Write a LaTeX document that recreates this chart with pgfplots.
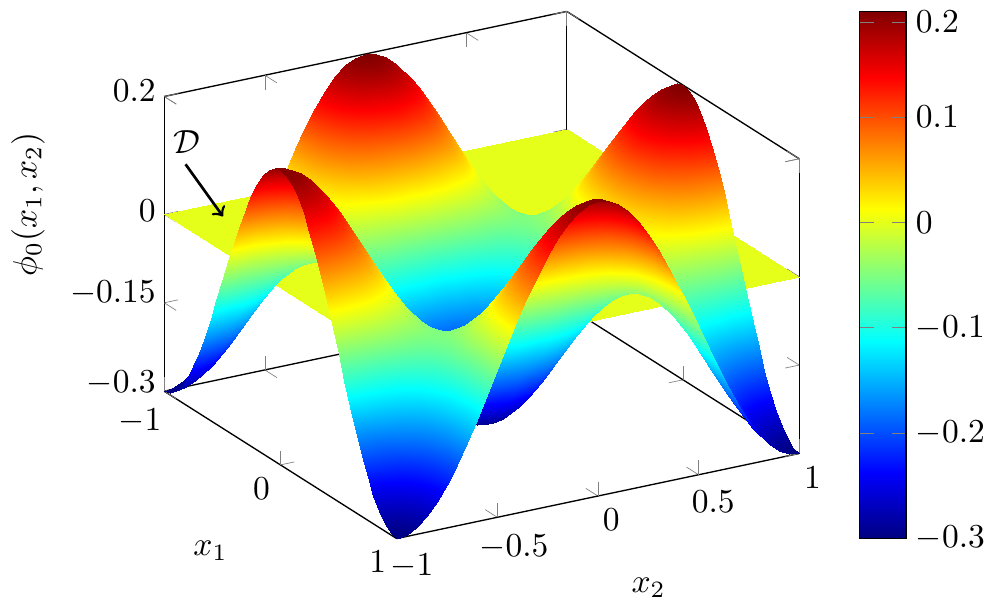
\documentclass[border=0pt]{standalone}
\usepackage{pgfplots}
\pgfplotsset{compat=1.18}
\begin{document}
\begin{tikzpicture}
\begin{axis}[
  scale only axis,
  width=189.6pt, height=157.4pt,
  view={60}{30},
  xmin=-1, xmax=1, ymin=-1, ymax=1, zmin=-0.3, zmax=0.2,
  xtick={-1,0,1}, ytick={-1,-0.5,0,0.5,1}, ztick={-0.3,-0.15,0,0.2},
  xlabel={$x_1$}, ylabel={$x_2$}, zlabel={$\phi_0(x_1,x_2)$},
  zlabel style={xshift=4.5pt},
  z tick label style={xshift=1pt},
  colormap/jet,
  point meta min=-0.3, point meta max=0.2,
  colorbar,
  colorbar style={width=14pt, xshift=-0.4pt,
    y tick label style={xshift=-0.6pt},
    ytick={-0.3,-0.2,-0.1,0,0.1,0.19},
    yticklabels={$-0.3$,$-0.2$,$-0.1$,$0$,$0.1$,$0.2$}},
  clip=false,
]
\addplot3[surf, shader=interp, mesh/rows=2, mesh/cols=2, point meta=z] coordinates {
  (-1,-1,0) (-1,1,0)
  (1,-1,0) (1,1,0)
};
% 41 x 41 grid, one line per x1 value, x2 running from -1 to 1
\addplot3[surf, shader=interp, mesh/rows=41, mesh/cols=41, mesh/ordering=y varies, point meta=z]
table[row sep=crcr, z=z, x expr={-1+0.05*floor((\coordindex+0.5)/41)}, y expr={-1+0.05*(\coordindex-41*floor((\coordindex+0.5)/41))}] {
z\\
-.3\\-.2969\\-.2878\\-.2728\\-.2523\\-.2268\\-.197\\-.1635\\-.1273\\-.0891\\-.05\\-.0109\\.0273\\.0635\\.097\\.1268\\.1523\\.1728\\.1878\\.1969\\.2\\.1969\\.1878\\.1728\\.1523\\.1268\\.097\\.0635\\.0273\\-.0109\\-.05\\-.0891\\-.1273\\-.1635\\-.197\\-.2268\\-.2523\\-.2728\\-.2878\\-.2969\\-.3\\
-.2969\\-.2939\\-.2848\\-.27\\-.2498\\-.2246\\-.1951\\-.1621\\-.1263\\-.0886\\-.05\\-.0114\\.0263\\.0621\\.0951\\.1246\\.1498\\.17\\.1848\\.1939\\.1969\\.1939\\.1848\\.17\\.1498\\.1246\\.0951\\.0621\\.0263\\-.0114\\-.05\\-.0886\\-.1263\\-.1621\\-.1951\\-.2246\\-.2498\\-.27\\-.2848\\-.2939\\-.2969\\
-.2878\\-.2848\\-.2761\\-.2618\\-.2424\\-.2181\\-.1898\\-.1579\\-.1235\\-.0872\\-.05\\-.0128\\.0235\\.0579\\.0898\\.1181\\.1424\\.1618\\.1761\\.1848\\.1878\\.1848\\.1761\\.1618\\.1424\\.1181\\.0898\\.0579\\.0235\\-.0128\\-.05\\-.0872\\-.1235\\-.1579\\-.1898\\-.2181\\-.2424\\-.2618\\-.2761\\-.2848\\-.2878\\
-.2728\\-.27\\-.2618\\-.2485\\-.2302\\-.2075\\-.1809\\-.1511\\-.1188\\-.0848\\-.05\\-.0152\\.0188\\.0511\\.0809\\.1075\\.1302\\.1485\\.1618\\.17\\.1728\\.17\\.1618\\.1485\\.1302\\.1075\\.0809\\.0511\\.0188\\-.0152\\-.05\\-.0848\\-.1188\\-.1511\\-.1809\\-.2075\\-.2302\\-.2485\\-.2618\\-.27\\-.2728\\
-.2523\\-.2498\\-.2424\\-.2302\\-.2136\\-.193\\-.1689\\-.1418\\-.1125\\-.0816\\-.05\\-.0184\\.0125\\.0418\\.0689\\.093\\.1136\\.1302\\.1424\\.1498\\.1523\\.1498\\.1424\\.1302\\.1136\\.093\\.0689\\.0418\\.0125\\-.0184\\-.05\\-.0816\\-.1125\\-.1418\\-.1689\\-.193\\-.2136\\-.2302\\-.2424\\-.2498\\-.2523\\
-.2268\\-.2246\\-.2181\\-.2075\\-.193\\-.175\\-.1539\\-.1303\\-.1046\\-.0777\\-.05\\-.0223\\.0046\\.0303\\.0539\\.075\\.093\\.1075\\.1181\\.1246\\.1268\\.1246\\.1181\\.1075\\.093\\.075\\.0539\\.0303\\.0046\\-.0223\\-.05\\-.0777\\-.1046\\-.1303\\-.1539\\-.175\\-.193\\-.2075\\-.2181\\-.2246\\-.2268\\
-.197\\-.1951\\-.1898\\-.1809\\-.1689\\-.1539\\-.1364\\-.1167\\-.0954\\-.073\\-.05\\-.027\\-.0046\\.0167\\.0364\\.0539\\.0689\\.0809\\.0898\\.0951\\.097\\.0951\\.0898\\.0809\\.0689\\.0539\\.0364\\.0167\\-.0046\\-.027\\-.05\\-.073\\-.0954\\-.1167\\-.1364\\-.1539\\-.1689\\-.1809\\-.1898\\-.1951\\-.197\\
-.1635\\-.1621\\-.1579\\-.1511\\-.1418\\-.1303\\-.1167\\-.1015\\-.0851\\-.0678\\-.05\\-.0322\\-.0149\\.0015\\.0167\\.0303\\.0418\\.0511\\.0579\\.0621\\.0635\\.0621\\.0579\\.0511\\.0418\\.0303\\.0167\\.0015\\-.0149\\-.0322\\-.05\\-.0678\\-.0851\\-.1015\\-.1167\\-.1303\\-.1418\\-.1511\\-.1579\\-.1621\\-.1635\\
-.1273\\-.1263\\-.1235\\-.1188\\-.1125\\-.1046\\-.0954\\-.0851\\-.0739\\-.0621\\-.05\\-.0379\\-.0261\\-.0149\\-.0046\\.0046\\.0125\\.0188\\.0235\\.0263\\.0273\\.0263\\.0235\\.0188\\.0125\\.0046\\-.0046\\-.0149\\-.0261\\-.0379\\-.05\\-.0621\\-.0739\\-.0851\\-.0954\\-.1046\\-.1125\\-.1188\\-.1235\\-.1263\\-.1273\\
-.0891\\-.0886\\-.0872\\-.0848\\-.0816\\-.0777\\-.073\\-.0678\\-.0621\\-.0561\\-.05\\-.0439\\-.0379\\-.0322\\-.027\\-.0223\\-.0184\\-.0152\\-.0128\\-.0114\\-.0109\\-.0114\\-.0128\\-.0152\\-.0184\\-.0223\\-.027\\-.0322\\-.0379\\-.0439\\-.05\\-.0561\\-.0621\\-.0678\\-.073\\-.0777\\-.0816\\-.0848\\-.0872\\-.0886\\-.0891\\
-.05\\-.05\\-.05\\-.05\\-.05\\-.05\\-.05\\-.05\\-.05\\-.05\\-.05\\-.05\\-.05\\-.05\\-.05\\-.05\\-.05\\-.05\\-.05\\-.05\\-.05\\-.05\\-.05\\-.05\\-.05\\-.05\\-.05\\-.05\\-.05\\-.05\\-.05\\-.05\\-.05\\-.05\\-.05\\-.05\\-.05\\-.05\\-.05\\-.05\\-.05\\
-.0109\\-.0114\\-.0128\\-.0152\\-.0184\\-.0223\\-.027\\-.0322\\-.0379\\-.0439\\-.05\\-.0561\\-.0621\\-.0678\\-.073\\-.0777\\-.0816\\-.0848\\-.0872\\-.0886\\-.0891\\-.0886\\-.0872\\-.0848\\-.0816\\-.0777\\-.073\\-.0678\\-.0621\\-.0561\\-.05\\-.0439\\-.0379\\-.0322\\-.027\\-.0223\\-.0184\\-.0152\\-.0128\\-.0114\\-.0109\\
.0273\\.0263\\.0235\\.0188\\.0125\\.0046\\-.0046\\-.0149\\-.0261\\-.0379\\-.05\\-.0621\\-.0739\\-.0851\\-.0954\\-.1046\\-.1125\\-.1188\\-.1235\\-.1263\\-.1273\\-.1263\\-.1235\\-.1188\\-.1125\\-.1046\\-.0954\\-.0851\\-.0739\\-.0621\\-.05\\-.0379\\-.0261\\-.0149\\-.0046\\.0046\\.0125\\.0188\\.0235\\.0263\\.0273\\
.0635\\.0621\\.0579\\.0511\\.0418\\.0303\\.0167\\.0015\\-.0149\\-.0322\\-.05\\-.0678\\-.0851\\-.1015\\-.1167\\-.1303\\-.1418\\-.1511\\-.1579\\-.1621\\-.1635\\-.1621\\-.1579\\-.1511\\-.1418\\-.1303\\-.1167\\-.1015\\-.0851\\-.0678\\-.05\\-.0322\\-.0149\\.0015\\.0167\\.0303\\.0418\\.0511\\.0579\\.0621\\.0635\\
.097\\.0951\\.0898\\.0809\\.0689\\.0539\\.0364\\.0167\\-.0046\\-.027\\-.05\\-.073\\-.0954\\-.1167\\-.1364\\-.1539\\-.1689\\-.1809\\-.1898\\-.1951\\-.197\\-.1951\\-.1898\\-.1809\\-.1689\\-.1539\\-.1364\\-.1167\\-.0954\\-.073\\-.05\\-.027\\-.0046\\.0167\\.0364\\.0539\\.0689\\.0809\\.0898\\.0951\\.097\\
.1268\\.1246\\.1181\\.1075\\.093\\.075\\.0539\\.0303\\.0046\\-.0223\\-.05\\-.0777\\-.1046\\-.1303\\-.1539\\-.175\\-.193\\-.2075\\-.2181\\-.2246\\-.2268\\-.2246\\-.2181\\-.2075\\-.193\\-.175\\-.1539\\-.1303\\-.1046\\-.0777\\-.05\\-.0223\\.0046\\.0303\\.0539\\.075\\.093\\.1075\\.1181\\.1246\\.1268\\
.1523\\.1498\\.1424\\.1302\\.1136\\.093\\.0689\\.0418\\.0125\\-.0184\\-.05\\-.0816\\-.1125\\-.1418\\-.1689\\-.193\\-.2136\\-.2302\\-.2424\\-.2498\\-.2523\\-.2498\\-.2424\\-.2302\\-.2136\\-.193\\-.1689\\-.1418\\-.1125\\-.0816\\-.05\\-.0184\\.0125\\.0418\\.0689\\.093\\.1136\\.1302\\.1424\\.1498\\.1523\\
.1728\\.17\\.1618\\.1485\\.1302\\.1075\\.0809\\.0511\\.0188\\-.0152\\-.05\\-.0848\\-.1188\\-.1511\\-.1809\\-.2075\\-.2302\\-.2485\\-.2618\\-.27\\-.2728\\-.27\\-.2618\\-.2485\\-.2302\\-.2075\\-.1809\\-.1511\\-.1188\\-.0848\\-.05\\-.0152\\.0188\\.0511\\.0809\\.1075\\.1302\\.1485\\.1618\\.17\\.1728\\
.1878\\.1848\\.1761\\.1618\\.1424\\.1181\\.0898\\.0579\\.0235\\-.0128\\-.05\\-.0872\\-.1235\\-.1579\\-.1898\\-.2181\\-.2424\\-.2618\\-.2761\\-.2848\\-.2878\\-.2848\\-.2761\\-.2618\\-.2424\\-.2181\\-.1898\\-.1579\\-.1235\\-.0872\\-.05\\-.0128\\.0235\\.0579\\.0898\\.1181\\.1424\\.1618\\.1761\\.1848\\.1878\\
.1969\\.1939\\.1848\\.17\\.1498\\.1246\\.0951\\.0621\\.0263\\-.0114\\-.05\\-.0886\\-.1263\\-.1621\\-.1951\\-.2246\\-.2498\\-.27\\-.2848\\-.2939\\-.2969\\-.2939\\-.2848\\-.27\\-.2498\\-.2246\\-.1951\\-.1621\\-.1263\\-.0886\\-.05\\-.0114\\.0263\\.0621\\.0951\\.1246\\.1498\\.17\\.1848\\.1939\\.1969\\
.2\\.1969\\.1878\\.1728\\.1523\\.1268\\.097\\.0635\\.0273\\-.0109\\-.05\\-.0891\\-.1273\\-.1635\\-.197\\-.2268\\-.2523\\-.2728\\-.2878\\-.2969\\-.3\\-.2969\\-.2878\\-.2728\\-.2523\\-.2268\\-.197\\-.1635\\-.1273\\-.0891\\-.05\\-.0109\\.0273\\.0635\\.097\\.1268\\.1523\\.1728\\.1878\\.1969\\.2\\
.1969\\.1939\\.1848\\.17\\.1498\\.1246\\.0951\\.0621\\.0263\\-.0114\\-.05\\-.0886\\-.1263\\-.1621\\-.1951\\-.2246\\-.2498\\-.27\\-.2848\\-.2939\\-.2969\\-.2939\\-.2848\\-.27\\-.2498\\-.2246\\-.1951\\-.1621\\-.1263\\-.0886\\-.05\\-.0114\\.0263\\.0621\\.0951\\.1246\\.1498\\.17\\.1848\\.1939\\.1969\\
.1878\\.1848\\.1761\\.1618\\.1424\\.1181\\.0898\\.0579\\.0235\\-.0128\\-.05\\-.0872\\-.1235\\-.1579\\-.1898\\-.2181\\-.2424\\-.2618\\-.2761\\-.2848\\-.2878\\-.2848\\-.2761\\-.2618\\-.2424\\-.2181\\-.1898\\-.1579\\-.1235\\-.0872\\-.05\\-.0128\\.0235\\.0579\\.0898\\.1181\\.1424\\.1618\\.1761\\.1848\\.1878\\
.1728\\.17\\.1618\\.1485\\.1302\\.1075\\.0809\\.0511\\.0188\\-.0152\\-.05\\-.0848\\-.1188\\-.1511\\-.1809\\-.2075\\-.2302\\-.2485\\-.2618\\-.27\\-.2728\\-.27\\-.2618\\-.2485\\-.2302\\-.2075\\-.1809\\-.1511\\-.1188\\-.0848\\-.05\\-.0152\\.0188\\.0511\\.0809\\.1075\\.1302\\.1485\\.1618\\.17\\.1728\\
.1523\\.1498\\.1424\\.1302\\.1136\\.093\\.0689\\.0418\\.0125\\-.0184\\-.05\\-.0816\\-.1125\\-.1418\\-.1689\\-.193\\-.2136\\-.2302\\-.2424\\-.2498\\-.2523\\-.2498\\-.2424\\-.2302\\-.2136\\-.193\\-.1689\\-.1418\\-.1125\\-.0816\\-.05\\-.0184\\.0125\\.0418\\.0689\\.093\\.1136\\.1302\\.1424\\.1498\\.1523\\
.1268\\.1246\\.1181\\.1075\\.093\\.075\\.0539\\.0303\\.0046\\-.0223\\-.05\\-.0777\\-.1046\\-.1303\\-.1539\\-.175\\-.193\\-.2075\\-.2181\\-.2246\\-.2268\\-.2246\\-.2181\\-.2075\\-.193\\-.175\\-.1539\\-.1303\\-.1046\\-.0777\\-.05\\-.0223\\.0046\\.0303\\.0539\\.075\\.093\\.1075\\.1181\\.1246\\.1268\\
.097\\.0951\\.0898\\.0809\\.0689\\.0539\\.0364\\.0167\\-.0046\\-.027\\-.05\\-.073\\-.0954\\-.1167\\-.1364\\-.1539\\-.1689\\-.1809\\-.1898\\-.1951\\-.197\\-.1951\\-.1898\\-.1809\\-.1689\\-.1539\\-.1364\\-.1167\\-.0954\\-.073\\-.05\\-.027\\-.0046\\.0167\\.0364\\.0539\\.0689\\.0809\\.0898\\.0951\\.097\\
.0635\\.0621\\.0579\\.0511\\.0418\\.0303\\.0167\\.0015\\-.0149\\-.0322\\-.05\\-.0678\\-.0851\\-.1015\\-.1167\\-.1303\\-.1418\\-.1511\\-.1579\\-.1621\\-.1635\\-.1621\\-.1579\\-.1511\\-.1418\\-.1303\\-.1167\\-.1015\\-.0851\\-.0678\\-.05\\-.0322\\-.0149\\.0015\\.0167\\.0303\\.0418\\.0511\\.0579\\.0621\\.0635\\
.0273\\.0263\\.0235\\.0188\\.0125\\.0046\\-.0046\\-.0149\\-.0261\\-.0379\\-.05\\-.0621\\-.0739\\-.0851\\-.0954\\-.1046\\-.1125\\-.1188\\-.1235\\-.1263\\-.1273\\-.1263\\-.1235\\-.1188\\-.1125\\-.1046\\-.0954\\-.0851\\-.0739\\-.0621\\-.05\\-.0379\\-.0261\\-.0149\\-.0046\\.0046\\.0125\\.0188\\.0235\\.0263\\.0273\\
-.0109\\-.0114\\-.0128\\-.0152\\-.0184\\-.0223\\-.027\\-.0322\\-.0379\\-.0439\\-.05\\-.0561\\-.0621\\-.0678\\-.073\\-.0777\\-.0816\\-.0848\\-.0872\\-.0886\\-.0891\\-.0886\\-.0872\\-.0848\\-.0816\\-.0777\\-.073\\-.0678\\-.0621\\-.0561\\-.05\\-.0439\\-.0379\\-.0322\\-.027\\-.0223\\-.0184\\-.0152\\-.0128\\-.0114\\-.0109\\
-.05\\-.05\\-.05\\-.05\\-.05\\-.05\\-.05\\-.05\\-.05\\-.05\\-.05\\-.05\\-.05\\-.05\\-.05\\-.05\\-.05\\-.05\\-.05\\-.05\\-.05\\-.05\\-.05\\-.05\\-.05\\-.05\\-.05\\-.05\\-.05\\-.05\\-.05\\-.05\\-.05\\-.05\\-.05\\-.05\\-.05\\-.05\\-.05\\-.05\\-.05\\
-.0891\\-.0886\\-.0872\\-.0848\\-.0816\\-.0777\\-.073\\-.0678\\-.0621\\-.0561\\-.05\\-.0439\\-.0379\\-.0322\\-.027\\-.0223\\-.0184\\-.0152\\-.0128\\-.0114\\-.0109\\-.0114\\-.0128\\-.0152\\-.0184\\-.0223\\-.027\\-.0322\\-.0379\\-.0439\\-.05\\-.0561\\-.0621\\-.0678\\-.073\\-.0777\\-.0816\\-.0848\\-.0872\\-.0886\\-.0891\\
-.1273\\-.1263\\-.1235\\-.1188\\-.1125\\-.1046\\-.0954\\-.0851\\-.0739\\-.0621\\-.05\\-.0379\\-.0261\\-.0149\\-.0046\\.0046\\.0125\\.0188\\.0235\\.0263\\.0273\\.0263\\.0235\\.0188\\.0125\\.0046\\-.0046\\-.0149\\-.0261\\-.0379\\-.05\\-.0621\\-.0739\\-.0851\\-.0954\\-.1046\\-.1125\\-.1188\\-.1235\\-.1263\\-.1273\\
-.1635\\-.1621\\-.1579\\-.1511\\-.1418\\-.1303\\-.1167\\-.1015\\-.0851\\-.0678\\-.05\\-.0322\\-.0149\\.0015\\.0167\\.0303\\.0418\\.0511\\.0579\\.0621\\.0635\\.0621\\.0579\\.0511\\.0418\\.0303\\.0167\\.0015\\-.0149\\-.0322\\-.05\\-.0678\\-.0851\\-.1015\\-.1167\\-.1303\\-.1418\\-.1511\\-.1579\\-.1621\\-.1635\\
-.197\\-.1951\\-.1898\\-.1809\\-.1689\\-.1539\\-.1364\\-.1167\\-.0954\\-.073\\-.05\\-.027\\-.0046\\.0167\\.0364\\.0539\\.0689\\.0809\\.0898\\.0951\\.097\\.0951\\.0898\\.0809\\.0689\\.0539\\.0364\\.0167\\-.0046\\-.027\\-.05\\-.073\\-.0954\\-.1167\\-.1364\\-.1539\\-.1689\\-.1809\\-.1898\\-.1951\\-.197\\
-.2268\\-.2246\\-.2181\\-.2075\\-.193\\-.175\\-.1539\\-.1303\\-.1046\\-.0777\\-.05\\-.0223\\.0046\\.0303\\.0539\\.075\\.093\\.1075\\.1181\\.1246\\.1268\\.1246\\.1181\\.1075\\.093\\.075\\.0539\\.0303\\.0046\\-.0223\\-.05\\-.0777\\-.1046\\-.1303\\-.1539\\-.175\\-.193\\-.2075\\-.2181\\-.2246\\-.2268\\
-.2523\\-.2498\\-.2424\\-.2302\\-.2136\\-.193\\-.1689\\-.1418\\-.1125\\-.0816\\-.05\\-.0184\\.0125\\.0418\\.0689\\.093\\.1136\\.1302\\.1424\\.1498\\.1523\\.1498\\.1424\\.1302\\.1136\\.093\\.0689\\.0418\\.0125\\-.0184\\-.05\\-.0816\\-.1125\\-.1418\\-.1689\\-.193\\-.2136\\-.2302\\-.2424\\-.2498\\-.2523\\
-.2728\\-.27\\-.2618\\-.2485\\-.2302\\-.2075\\-.1809\\-.1511\\-.1188\\-.0848\\-.05\\-.0152\\.0188\\.0511\\.0809\\.1075\\.1302\\.1485\\.1618\\.17\\.1728\\.17\\.1618\\.1485\\.1302\\.1075\\.0809\\.0511\\.0188\\-.0152\\-.05\\-.0848\\-.1188\\-.1511\\-.1809\\-.2075\\-.2302\\-.2485\\-.2618\\-.27\\-.2728\\
-.2878\\-.2848\\-.2761\\-.2618\\-.2424\\-.2181\\-.1898\\-.1579\\-.1235\\-.0872\\-.05\\-.0128\\.0235\\.0579\\.0898\\.1181\\.1424\\.1618\\.1761\\.1848\\.1878\\.1848\\.1761\\.1618\\.1424\\.1181\\.0898\\.0579\\.0235\\-.0128\\-.05\\-.0872\\-.1235\\-.1579\\-.1898\\-.2181\\-.2424\\-.2618\\-.2761\\-.2848\\-.2878\\
-.2969\\-.2939\\-.2848\\-.27\\-.2498\\-.2246\\-.1951\\-.1621\\-.1263\\-.0886\\-.05\\-.0114\\.0263\\.0621\\.0951\\.1246\\.1498\\.17\\.1848\\.1939\\.1969\\.1939\\.1848\\.17\\.1498\\.1246\\.0951\\.0621\\.0263\\-.0114\\-.05\\-.0886\\-.1263\\-.1621\\-.1951\\-.2246\\-.2498\\-.27\\-.2848\\-.2939\\-.2969\\
-.3\\-.2969\\-.2878\\-.2728\\-.2523\\-.2268\\-.197\\-.1635\\-.1273\\-.0891\\-.05\\-.0109\\.0273\\.0635\\.097\\.1268\\.1523\\.1728\\.1878\\.1969\\.2\\.1969\\.1878\\.1728\\.1523\\.1268\\.097\\.0635\\.0273\\-.0109\\-.05\\-.0891\\-.1273\\-.1635\\-.197\\-.2268\\-.2523\\-.2728\\-.2878\\-.2969\\-.3\\
};
\draw[->, thick] (axis cs:-1.464,-0.626,0) -- (axis cs:-0.853,-0.793,0);
\node at (axis cs:-1.686,-0.493,0) {$\mathcal{D}$};
\end{axis}
\end{tikzpicture}
\end{document}
